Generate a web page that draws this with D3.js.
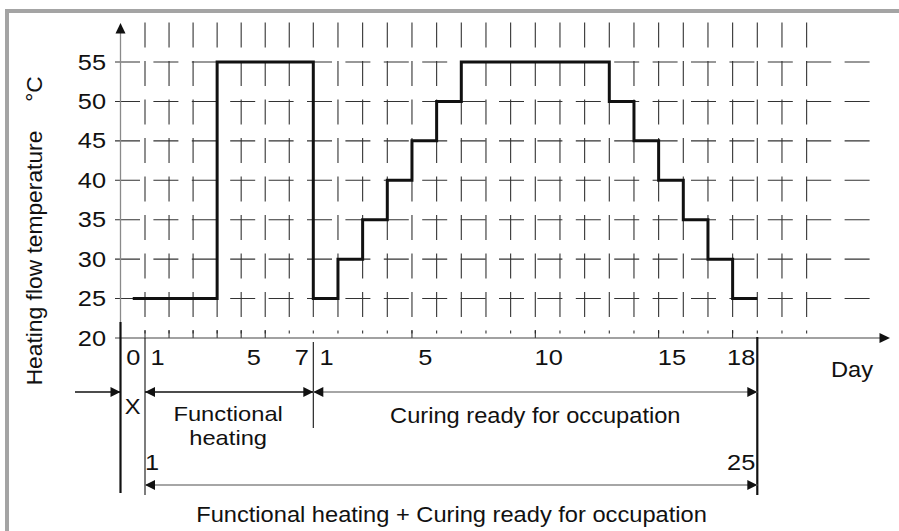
<!DOCTYPE html>
<html>
<head>
<meta charset="utf-8">
<script src="https://cdn.jsdelivr.net/npm/d3@7/dist/d3.min.js"></script>
<style>
  html, body { margin: 0; padding: 0; background: #fff; }
  svg { display: block; }
  text { font-family: "Liberation Sans", Arial, Helvetica, sans-serif; fill: #111; }
</style>
</head>
<body>
<script>
// Heating flow temperature programme: optional pre-phase X, functional heating, curing
const tempTicks = [20, 25, 30, 35, 40, 45, 50, 55];
const gridTemps = [25, 30, 35, 40, 45, 50, 55];
const preTemp = 25;                                   // phase X
const functionalTemps = [25, 25, 25, 55, 55, 55, 55]; // functional heating, days 1..7
const curingTemps = [25, 30, 35, 40, 45, 50, 55, 55, 55, 55, 55, 55, 50, 45, 40, 35, 30, 25]; // curing, days 1..18
const functionalDayLabels = [1, 5, 7];
const curingDayLabels = [1, 5, 10, 15, 18];
const axisTickSlots = [0, 1, 2, 3, 4, 5, 11, 16, 21, 24];

const W = 899, H = 531;
const svg = d3.select("body").append("svg").attr("width", W).attr("height", H);
svg.append("rect").attr("width", W).attr("height", H).attr("fill", "#fff");

// slot scale: -1 = start of X, 0 = start of functional day 1, 7 = start of curing day 1, 25 = end
const nF = functionalTemps.length, nC = curingTemps.length;
const x = d3.scaleLinear().domain([-1, 0, nF, nF + nC]).range([120.5, 145, 313.3, 757.3]);
const y = d3.scaleLinear().domain([20, 55]).range([338, 62]);

const SX = 1.1;      // horizontal stretch for text
const SXN = 1.18;    // for numerals
const FS = 21.5;

function label(txt, px, py, anchor, sx, fs) {
  return svg.append("text")
    .attr("transform", `translate(${px},${py}) scale(${sx || SX},1)`)
    .attr("text-anchor", anchor || "middle")
    .attr("font-size", fs || FS)
    .text(txt);
}

// frame
svg.append("path").attr("d", `M7,${H} V11 H${W}`)
  .attr("fill", "none").attr("stroke", "#a4a4a4").attr("stroke-width", 4);

// dashed grid
const grid = svg.append("g").attr("stroke", "#333").attr("stroke-width", 1.1).attr("fill", "none");
grid.selectAll("line.h").data(gridTemps).join("line").attr("class", "h")
  .attr("x1", 115).attr("x2", 870)
  .attr("y1", d => y(d)).attr("y2", d => y(d))
  .attr("stroke-dasharray", "25 13.4");
const lastSlot = nF + nC + 2;
grid.selectAll("line.v").data(d3.range(0, lastSlot + 1)).join("line").attr("class", "v")
  .attr("x1", d => x(d)).attr("x2", d => x(d))
  .attr("y1", y(60)).attr("y2", 333.5)
  .attr("stroke-dasharray", "25 13.5");

// axis ticks on the day axis
svg.append("g").selectAll("line").data(axisTickSlots).join("line")
  .attr("x1", d => x(d)).attr("x2", d => x(d))
  .attr("y1", 330).attr("y2", y(20))
  .attr("stroke", "#222").attr("stroke-width", 1);

// y axis
svg.append("line").attr("x1", x(-1)).attr("x2", x(-1)).attr("y1", 30).attr("y2", 322)
  .attr("stroke", "#8a8a8a").attr("stroke-width", 1.3);
svg.append("path")
  .attr("d", `M${x(-1)},23 L${x(-1) - 5},33.5 L${x(-1) + 5},33.5 Z`).attr("fill", "#111");

// x axis
svg.append("line").attr("x1", 115).attr("x2", 882).attr("y1", y(20)).attr("y2", y(20))
  .attr("stroke", "#444").attr("stroke-width", 1.1);
svg.append("path")
  .attr("d", `M890,${y(20)} L879.5,${y(20) - 5} L879.5,${y(20) + 5} Z`).attr("fill", "#111");

// phase separators below the axis
const sep = [
  { s: -1, y1: 322, y2: 493, w: 2.2 },
  { s: 0, y1: 338, y2: 495, w: 1.1 },
  { s: nF, y1: 342, y2: 428, w: 1.1 },
  { s: nF + nC, y1: 337, y2: 495, w: 2.2 }
];
svg.append("g").selectAll("line").data(sep).join("line")
  .attr("x1", d => x(d.s)).attr("x2", d => x(d.s))
  .attr("y1", d => d.y1).attr("y2", d => d.y2)
  .attr("stroke", "#111").attr("stroke-width", d => d.w);

// y tick labels
tempTicks.forEach(t => label(String(t), 106, y(t) + 7.5, "end", SXN));

// day labels
label("0", (x(-1) + x(0)) / 2 + 0.5, 365, "middle", SXN);
functionalDayLabels.forEach(d => label(String(d), x(d - 0.5) + 0.5, 365, "middle", SXN));
curingDayLabels.forEach((d, i) => {
  const last = i === curingDayLabels.length - 1;
  if (last) label(String(d), x(nF + d) - 2, 365, "end", SXN);
  else label(String(d), x(nF + d - 0.5) + 1, 365, "middle", SXN);
});
label("Day", 852, 377);

// dimension arrows
function head(px, py, dir) {
  svg.append("path")
    .attr("d", `M${px},${py} L${px - dir * 10},${py - 5} L${px - dir * 10},${py + 5} Z`)
    .attr("fill", "#111");
}
function dim(xa, xb, py, color, leftHead, rightHead) {
  svg.append("line").attr("x1", xa).attr("x2", xb).attr("y1", py).attr("y2", py)
    .attr("stroke", color).attr("stroke-width", 1.4);
  if (leftHead) head(xa, py, -1);
  if (rightHead) head(xb, py, 1);
}
const rowA = 392, rowB = 485;
dim(75, x(-1), rowA, "#111", false, true);
dim(x(0), x(nF), rowA, "#111", true, true);
dim(x(nF), x(nF + nC), rowA, "#888", true, true);
dim(x(0), x(nF + nC), rowB, "#888", true, false);
head(x(nF + nC), rowB, 1);

label("X", (x(-1) + x(0)) / 2, 414);

// two-line phase caption
const fx = (x(0) + x(nF)) / 2 - 1;
label("Functional", fx, 421, "middle", 1.13, 21);
label("heating", fx, 445, "middle", 1.13, 21);

label("Curing ready for occupation", (x(nF) + x(nF + nC)) / 2, 423);
label("1", x(0) + 7, 470, "middle", SXN);
label(String(nF + nC), x(nF + nC) - 2, 470, "end", SXN);
label("Functional heating + Curing ready for occupation", 451.5, 522);

// y title
svg.append("text")
  .attr("transform", "translate(42,258) rotate(-90)")
  .attr("text-anchor", "middle").attr("font-size", 22.8)
  .text("Heating flow temperature");
svg.append("text")
  .attr("transform", "translate(42,89) rotate(-90)")
  .attr("text-anchor", "middle").attr("font-size", 22.8)
  .text("°C");

// temperature profile
const pts = [[-0.5, preTemp]];
functionalTemps.forEach((t, i) => pts.push([i, t]));
curingTemps.forEach((t, i) => pts.push([nF + i, t]));
pts.push([nF + nC, curingTemps[nC - 1]]);
svg.append("path").datum(pts)
  .attr("d", d3.line().x(d => x(d[0])).y(d => y(d[1])).curve(d3.curveStepAfter))
  .attr("fill", "none").attr("stroke", "#111").attr("stroke-width", 3)
  .attr("stroke-linejoin", "miter");
</script>
</body>
</html>
